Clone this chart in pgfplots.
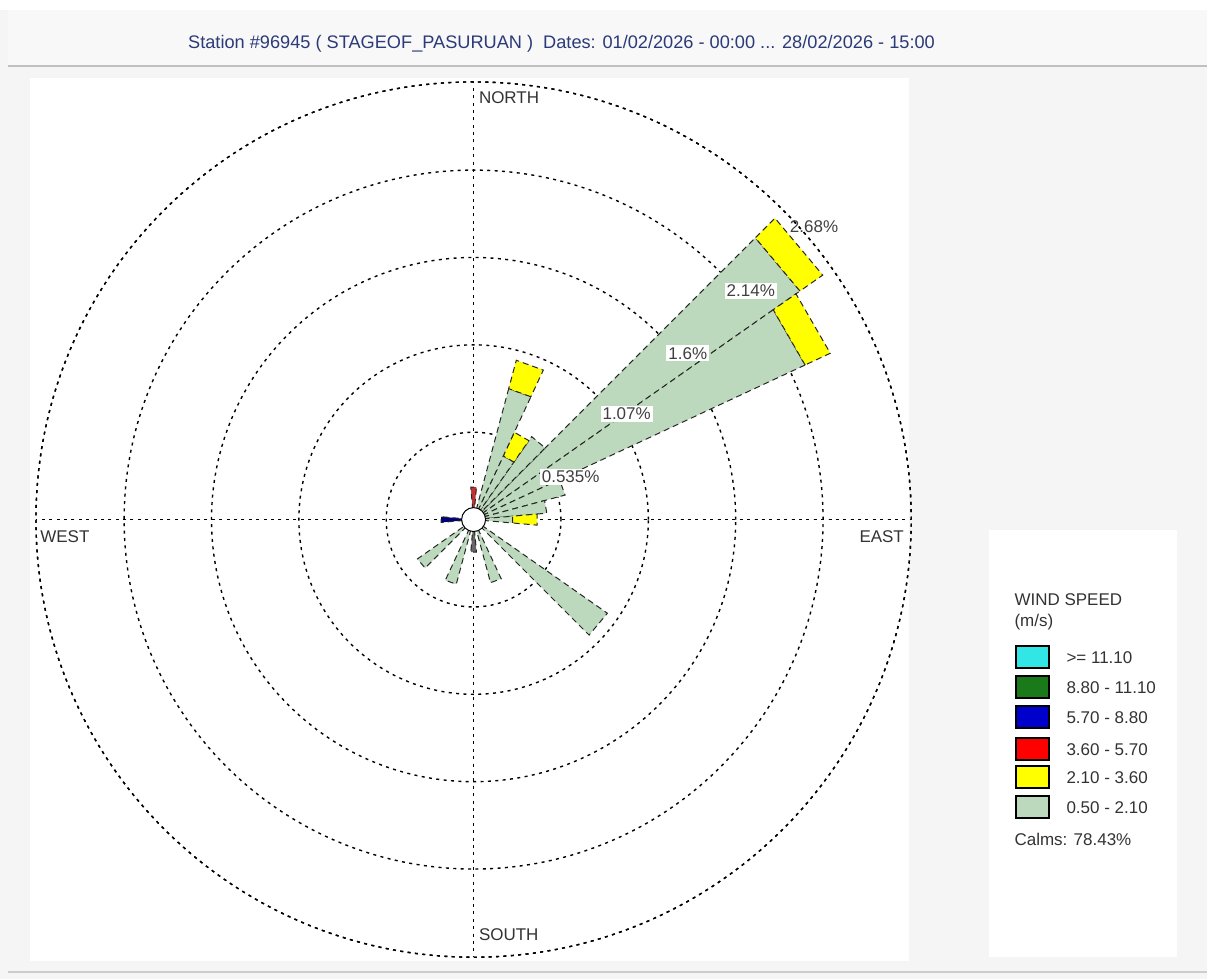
\documentclass[border=0pt]{standalone}
\usepackage{fontspec}
\setmainfont{Liberation Sans}
\usepackage{pgfplots}
\pgfplotsset{compat=1.18}
\usepgfplotslibrary{polar}

\definecolor{bgGray}{HTML}{F5F5F5}
\definecolor{titleBg}{HTML}{F8F8F8}
\definecolor{titleBlue}{HTML}{2B3A78}
\definecolor{wsCyan}{HTML}{33E6E6}
\definecolor{wsGreen}{HTML}{1A7A1A}
\definecolor{wsBlue}{HTML}{0000CC}
\definecolor{wsRed}{HTML}{FF0000}
\definecolor{wsYellow}{HTML}{FFFF00}
\definecolor{wsGray}{HTML}{BDD9BD}
\definecolor{legText}{HTML}{333333}

\newcommand{\lbl}{\fontsize{8.5}{10}\selectfont}

\begin{document}
\begin{tikzpicture}[x=0.5pt,y=0.5pt]
% background panels (pixel grid, y measured from the bottom)
\fill[bgGray] (0,0) rectangle (1208,980);
\fill[white] (0,970) rectangle (1208,980);
\fill[titleBg] (8,914) rectangle (1208,970);
\draw[black!25,line width=1pt] (8,914) -- (1208,914);
\fill[white] (30,18) rectangle (910,902);
\fill[white] (990,22) rectangle (1178,450);
\draw[black!20,line width=1pt] (8,7) -- (1208,7);
\path[use as bounding box] (0,0) rectangle (1208,980);

\node[text=titleBlue,font=\fontsize{9.1}{11}\selectfont] at (562,936)
  {Station \#96945 ( STAGEOF\_PASURUAN )\ \ Dates: 01/02/2026 - 00:00 ... 28/02/2026 - 15:00};

% centre of the rose: pixel (474,520) -> (237pt,230pt)
\begin{polaraxis}[
  at={(237pt,230pt)}, anchor=center,
  scale only axis, width=438pt, height=438pt,
  ymin=0, ymax=2.68,
  xtick={0,90,180,270},
  ytick={0.535,1.07,1.605,2.14,2.68},
  xticklabels={}, yticklabels={},
  major tick length=0pt,
  grid=major,
  major grid style={draw=black,line width=0.7pt,dash pattern=on 1.5pt off 2.2pt},
  axis line style={draw=black,line width=0.7pt,dash pattern=on 1.5pt off 2.2pt},
  clip=false,
  petal/.style={draw=black!85,line width=0.5pt,densely dashed},
]
% bearing 50 (math angle 40)
\addplot[petal,fill=wsGray]   coordinates {(35,0) (45,0) (45,2.44) (35,2.44)} -- cycle;
\addplot[petal,fill=wsYellow] coordinates {(35,2.44) (45,2.44) (45,2.61) (35,2.61)} -- cycle;
% bearing 60 (math angle 30)
\addplot[petal,fill=wsGray]   coordinates {(25,0) (35,0) (35,2.24) (25,2.24)} -- cycle;
\addplot[petal,fill=wsYellow] coordinates {(25,2.24) (35,2.24) (35,2.41) (25,2.41)} -- cycle;
% bearing 40
\addplot[petal,fill=wsGray]   coordinates {(45,0) (55,0) (55,0.62) (45,0.62)} -- cycle;
% bearing 30
\addplot[petal,fill=wsGray]   coordinates {(55,0) (65,0) (65,0.43) (55,0.43)} -- cycle;
\addplot[petal,fill=wsYellow] coordinates {(55,0.43) (65,0.43) (65,0.59) (55,0.59)} -- cycle;
% bearing 20
\addplot[petal,fill=wsGray]   coordinates {(65,0) (75,0) (75,0.83) (65,0.83)} -- cycle;
\addplot[petal,fill=wsYellow] coordinates {(65,0.83) (75,0.83) (75,1.01) (65,1.01)} -- cycle;
% bearing 0
\addplot[petal,fill=wsRed!70!black!80] coordinates {(85,0) (95,0) (95,0.20) (85,0.20)} -- cycle;
% bearing 70, 80
\addplot[petal,fill=wsGray]   coordinates {(15,0) (25,0) (25,0.58) (15,0.58)} -- cycle;
\addplot[petal,fill=wsGray]   coordinates {(5,0) (15,0) (15,0.45) (5,0.45)} -- cycle;
% bearing 90
\addplot[petal,fill=wsGray]   coordinates {(-5,0) (5,0) (5,0.24) (-5,0.24)} -- cycle;
\addplot[petal,fill=wsYellow] coordinates {(-5,0.24) (5,0.24) (5,0.39) (-5,0.39)} -- cycle;
% bearing 130
\addplot[petal,fill=wsGray]   coordinates {(-45,0) (-35,0) (-35,1.00) (-45,1.00)} -- cycle;
% bearing 160, 180, 200, 230
\addplot[petal,fill=wsGray]   coordinates {(-75,0) (-65,0) (-65,0.40) (-75,0.40)} -- cycle;
\addplot[petal,fill=black!60] coordinates {(-95,0) (-85,0) (-85,0.20) (-95,0.20)} -- cycle;
\addplot[petal,fill=wsGray]   coordinates {(-115,0) (-105,0) (-105,0.41) (-115,0.41)} -- cycle;
\addplot[petal,fill=wsGray]   coordinates {(-145,0) (-135,0) (-135,0.42) (-145,0.42)} -- cycle;
% bearing 270
\addplot[petal,fill=wsBlue!60!black] coordinates {(175,0) (185,0) (185,0.20) (175,0.20)} -- cycle;
% calms
\addplot[only marks,mark=*,mark size=6pt,mark options={fill=white,draw=black,line width=0.5pt}]
  coordinates {(0,0)};
% ring labels
\node[fill=white,inner sep=1pt,text=black!75,font=\lbl] at (axis cs:23.9,0.65) {0.535\%};
\node[fill=white,inner sep=1pt,text=black!75,font=\lbl] at (axis cs:34.7,1.14) {1.07\%};
\node[fill=white,inner sep=1pt,text=black!75,font=\lbl] at (axis cs:37.8,1.66) {1.6\%};
\node[fill=white,inner sep=1pt,text=black!75,font=\lbl] at (axis cs:39.5,2.20) {2.14\%};
\node[inner sep=1pt,text=black!75,font=\lbl] at (axis cs:40.7,2.75) {2.68\%};
\end{polaraxis}

% compass labels
\node[anchor=west,inner sep=0pt,font=\lbl,text=black!80] at (479,882) {NORTH};
\node[anchor=west,inner sep=0pt,font=\lbl,text=black!80] at (479,45) {SOUTH};
\node[anchor=west,inner sep=0pt,font=\lbl,text=black!80] at (40,443) {WEST};
\node[anchor=east,inner sep=0pt,font=\lbl,text=black!80] at (905,443) {EAST};

% legend
\node[anchor=west,inner sep=0pt,font=\lbl,text=legText] at (1015,380) {WIND SPEED};
\node[anchor=west,inner sep=0pt,font=\lbl,text=legText] at (1015,357) {(m/s)};
\foreach \c/\t/\y in {wsCyan/{>= 11.10}/322, wsGreen/{8.80 - 11.10}/292,
                      wsBlue/{5.70 - 8.80}/262, wsRed/{3.60 - 5.70}/230,
                      wsYellow/{2.10 - 3.60}/202, wsGray/{0.50 - 2.10}/172} {
  \filldraw[fill=\c,draw=black,line width=1pt] (1017,\y-11) rectangle (1050,\y+11);
  \node[anchor=west,inner sep=0pt,font=\lbl,text=legText] at (1067,\y) {\t};
}
\node[anchor=west,inner sep=0pt,font=\lbl,text=legText] at (1015,140) {Calms: 78.43\%};
\end{tikzpicture}
\end{document}
